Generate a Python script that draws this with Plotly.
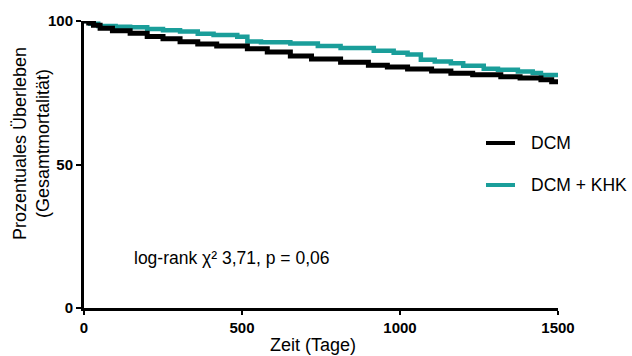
import plotly.graph_objects as go

# Kaplan-Meier step points (days, % survival)
dcm_days = [0, 15, 30, 51, 90, 146, 200, 250, 304, 360, 420, 517, 580, 653, 720,
            812, 900, 960, 1024, 1100, 1161, 1230, 1319, 1380, 1446, 1480, 1500]
dcm_surv = [100, 99.3, 98.5, 97.5, 96.6, 95.7, 94.6, 93.8, 92.8, 92.0, 91.3, 90.3, 89.2, 87.8, 86.8,
            85.6, 84.6, 84.0, 83.3, 82.6, 81.8, 81.3, 80.6, 80.1, 79.5, 78.8, 78.6]

khk_days = [0, 20, 45, 100, 146, 200, 250, 304, 360, 410, 485, 517, 560, 653, 740,
            812, 917, 980, 1024, 1066, 1110, 1161, 1200, 1265, 1310, 1373, 1420, 1446, 1500]
khk_surv = [100, 99.0, 98.3, 98.0, 97.8, 97.2, 96.8, 96.3, 95.6, 95.1, 94.5, 92.9, 92.6, 92.2, 91.3,
            90.6, 89.6, 88.9, 88.3, 86.5, 85.9, 85.3, 84.4, 83.4, 83.0, 82.4, 81.9, 81.2, 81.0]

series_names = ["DCM", "DCM + KHK"]
x_ticks = [0, 500, 1000, 1500]
y_ticks = [0, 50, 100]
annotation_text = "log-rank χ² 3,71, p = 0,06"
x_title = "Zeit (Tage)"
y_title = "Prozentuales Überleben<br>(Gesamtmortalität)"

BLACK = "#000000"
TEAL = "#1a9e9a"
FONT = "Liberation Sans, Arial, sans-serif"

W, H = 632, 356
L, R, T, B = 84, 558, 21, 308  # plot area in pixels


def px(xp):
    return (xp - L) / (R - L)


def py(yp):
    return (B - yp) / (B - T)


fig = go.Figure()
fig.add_trace(go.Scatter(x=khk_days, y=khk_surv, mode="lines", line_shape="hv",
                         line=dict(color=TEAL, width=4.5), name=series_names[1],
                         cliponaxis=False, showlegend=False))
fig.add_trace(go.Scatter(x=dcm_days, y=dcm_surv, mode="lines", line_shape="hv",
                         line=dict(color=BLACK, width=5), name=series_names[0],
                         cliponaxis=False, showlegend=False))

# legend drawn as line samples + labels
leg_items = [(series_names[0], BLACK, 143), (series_names[1], TEAL, 185)]
for name, col, ypx in leg_items:
    fig.add_shape(type="line", xref="paper", yref="paper",
                  x0=px(486), x1=px(515), y0=py(ypx), y1=py(ypx),
                  line=dict(color=col, width=4))
    fig.add_annotation(xref="paper", yref="paper", x=px(529), y=py(ypx),
                       text=name, showarrow=False, xanchor="left", yanchor="middle",
                       font=dict(family=FONT, size=17.5, color="#000"))

fig.add_annotation(xref="paper", yref="paper", x=px(132), y=py(258),
                   text=annotation_text, showarrow=False, xanchor="left", yanchor="middle",
                   font=dict(family=FONT, size=17.5, color="#000"))

# axis titles
fig.add_annotation(xref="paper", yref="paper", x=px(313), y=py(345),
                   text=x_title, showarrow=False, xanchor="center", yanchor="middle",
                   font=dict(family=FONT, size=18, color="#000"))
fig.add_annotation(xref="paper", yref="paper", x=px(31), y=py(144),
                   text=y_title, showarrow=False, xanchor="center", yanchor="middle",
                   textangle=-90, font=dict(family=FONT, size=18, color="#000"))

fig.update_layout(
    width=W, height=H,
    margin=dict(l=L, r=W - R, t=T, b=H - B),
    paper_bgcolor="white", plot_bgcolor="white",
    font=dict(family=FONT, color="#000"),
)
fig.update_xaxes(range=[0, 1500], tickvals=x_ticks, ticktext=[str(v) for v in x_ticks],
                 showgrid=False, zeroline=False, showline=True, linecolor="#000", linewidth=3,
                 ticks="outside", ticklen=4, tickwidth=2, tickcolor="#000", automargin=False,
                 tickfont=dict(family=FONT, size=15, weight="bold"))
fig.update_yaxes(range=[0, 100], tickvals=y_ticks, ticktext=[str(v) for v in y_ticks],
                 showgrid=False, zeroline=False, showline=True, linecolor="#000", linewidth=3,
                 ticks="outside", ticklen=5, tickwidth=2, tickcolor="#000", automargin=False,
                 tickfont=dict(family=FONT, size=15, weight="bold"))

fig.write_html("out.html", config={"displayModeBar": False},
               post_script="document.body.style.margin='0px';document.body.style.overflow='hidden';")
